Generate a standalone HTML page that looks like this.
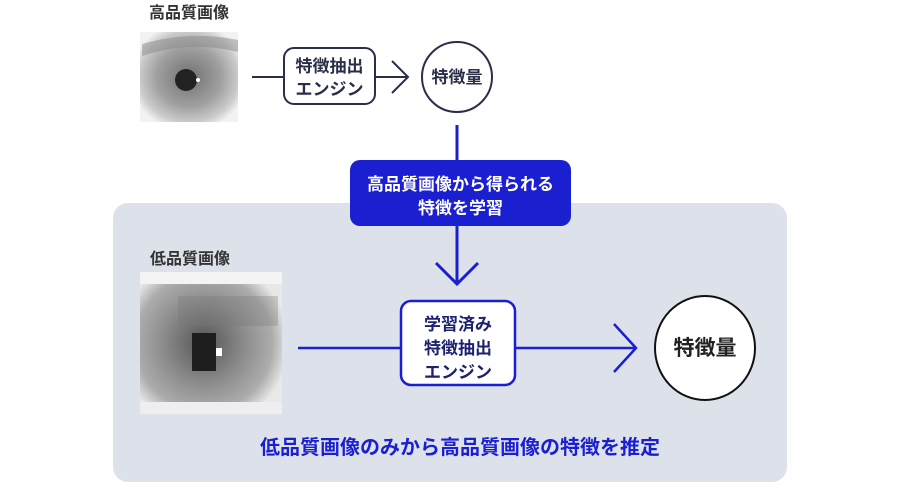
<!DOCTYPE html>
<html><head><meta charset="utf-8"><style>
html,body{margin:0;padding:0;background:#fff;}
svg{display:block;}
text{font-family:"Liberation Sans","Noto Sans CJK JP",sans-serif;font-weight:700;}
</style></head><body>
<svg width="900" height="490" viewBox="0 0 900 490" xmlns="http://www.w3.org/2000/svg">
<defs>
<radialGradient id="eye1" cx="0.5" cy="0.5" r="0.6">
<stop offset="0" stop-color="#707070"/><stop offset="0.55" stop-color="#a0a0a0"/><stop offset="0.85" stop-color="#cccccc"/><stop offset="1" stop-color="#f2f2f2"/>
</radialGradient>
<radialGradient id="eye2" cx="0.45" cy="0.5" r="0.6">
<stop offset="0" stop-color="#555"/><stop offset="0.5" stop-color="#8e8e8e"/><stop offset="0.8" stop-color="#acacac"/><stop offset="1" stop-color="#e8e8e8"/>
</radialGradient>
</defs>
<rect x="113" y="203" width="674" height="279" rx="15" fill="#dde1ea"/>
<!-- top -->
<text x="189" y="18" font-size="16" fill="#333" text-anchor="middle">高品質画像</text>
<rect x="140" y="32" width="98" height="90" fill="url(#eye1)"/>
<path d="M142 44 Q190 30 238 40 L238 52 Q190 40 142 56 Z" fill="#888" opacity="0.5"/>
<circle cx="186" cy="80" r="11" fill="#222"/>
<circle cx="198" cy="80" r="2" fill="#fff"/>
<line x1="252" y1="77" x2="284" y2="77" stroke="#2a2e48" stroke-width="2"/>
<rect x="284" y="48" width="91" height="56" rx="10" fill="#fff" stroke="#2a2e48" stroke-width="2"/>
<text x="329.5" y="72" font-size="17" fill="#2a2e48" text-anchor="middle">特徴抽出</text>
<text x="329.5" y="95" font-size="17" fill="#2a2e48" text-anchor="middle">エンジン</text>
<line x1="375" y1="77" x2="408" y2="77" stroke="#2a2e48" stroke-width="2"/>
<polyline points="392,61 408,77 392,93" fill="none" stroke="#2a2e48" stroke-width="2"/>
<circle cx="457" cy="77" r="35" fill="#fff" stroke="#2a2e48" stroke-width="2"/>
<text x="457" y="83" font-size="17" fill="#2a2e48" text-anchor="middle">特徴量</text>
<!-- vertical -->
<line x1="457" y1="125" x2="457" y2="284" stroke="#1a1fd0" stroke-width="3"/>
<polyline points="436,263 457,284 478,263" fill="none" stroke="#1a1fd0" stroke-width="3"/>
<rect x="350" y="160" width="221" height="66" rx="10" fill="#1a1fd0"/>
<text x="460.5" y="190" font-size="17" fill="#fff" text-anchor="middle">高品質画像から得られる</text>
<text x="460.5" y="214" font-size="17" fill="#fff" text-anchor="middle">特徴を学習</text>
<!-- bottom -->
<text x="190" y="264" font-size="16" fill="#333" text-anchor="middle">低品質画像</text>
<rect x="140" y="272" width="142" height="142" fill="url(#eye2)"/>
<rect x="140" y="272" width="142" height="12" fill="#f4f4f4"/>
<rect x="140" y="402" width="142" height="12" fill="#eee"/>
<rect x="178" y="296" width="100" height="30" fill="#777" opacity="0.3"/>
<rect x="192" y="333" width="24" height="38" fill="#1e1e1e"/>
<rect x="216" y="348" width="6" height="8" fill="#fff"/>
<line x1="298" y1="348" x2="401" y2="348" stroke="#1a1fd0" stroke-width="2.5"/>
<rect x="401" y="301" width="114" height="84" rx="10" fill="#fff" stroke="#1a1fd0" stroke-width="2.5"/>
<text x="458" y="330" font-size="17" fill="#1c2270" text-anchor="middle">学習済み</text>
<text x="458" y="354" font-size="17" fill="#1c2270" text-anchor="middle">特徴抽出</text>
<text x="458" y="378" font-size="17" fill="#1c2270" text-anchor="middle">エンジン</text>
<line x1="515" y1="348" x2="636" y2="348" stroke="#1a1fd0" stroke-width="2.5"/>
<polyline points="614,324 636,348 614,372" fill="none" stroke="#1a1fd0" stroke-width="2.5"/>
<ellipse cx="705" cy="348" rx="50" ry="52" fill="#fff" stroke="#111" stroke-width="2"/>
<text x="705" y="355" font-size="21" fill="#222" text-anchor="middle">特徴量</text>
<text x="460" y="454" font-size="20" fill="#1a1fd0" text-anchor="middle">低品質画像のみから高品質画像の特徴を推定</text>
</svg>
</body></html>
